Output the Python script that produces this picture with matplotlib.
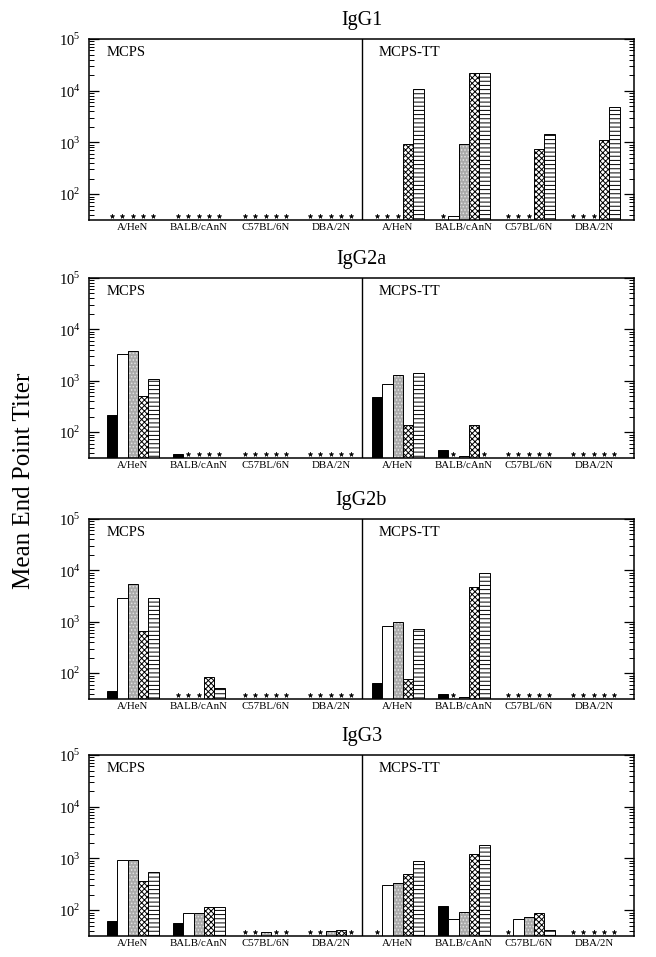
import numpy as np
import matplotlib
matplotlib.use("Agg")
import matplotlib.pyplot as plt
from matplotlib.ticker import LogLocator, NullFormatter, FixedLocator

plt.rcParams['font.family'] = ['Liberation Serif', 'DejaVu Serif']
plt.rcParams['mathtext.fontset'] = 'custom'
plt.rcParams['mathtext.rm'] = 'Liberation Serif'
plt.rcParams['hatch.linewidth'] = 0.7

ND = None  # not detected -> asterisk

strains = ["A/HeN", "BALB/cAnN", "C57BL/6N", "DBA/2N"]
vaccines = ["MCPS", "MCPS-TT"]
isotypes = ["IgG1", "IgG2a", "IgG2b", "IgG3"]

# each row: one strain, five bars (black, white, stippled, crosshatch, lines)
igg1_mcps = [[ND, ND, ND, ND, ND],
             [ND, ND, ND, ND, ND],
             [ND, ND, ND, ND, ND],
             [ND, ND, ND, ND, ND]]
igg1_tt = [[ND, ND, ND, 950, 11000],
           [ND, 37, 950, 22500, 22500],
           [ND, ND, ND, 760, 1450],
           [ND, ND, ND, 1100, 4900]]

igg2a_mcps = [[220, 3400, 3800, 500, 1100],
              [38, ND, ND, ND, ND],
              [ND, ND, ND, ND, ND],
              [ND, ND, ND, ND, ND]]
igg2a_tt = [[490, 880, 1300, 140, 1400],
            [45, ND, 35, 140, ND],
            [ND, ND, ND, ND, ND],
            [ND, ND, ND, ND, ND]]

igg2b_mcps = [[45, 2900, 5500, 650, 2900],
              [ND, ND, ND, 84, 51],
              [ND, ND, ND, ND, ND],
              [ND, ND, ND, ND, ND]]
igg2b_tt = [[64, 820, 1000, 77, 730],
            [40, ND, 35, 4800, 9000],
            [ND, ND, ND, ND, ND],
            [ND, ND, ND, ND, ND]]

igg3_mcps = [[63, 920, 920, 360, 550],
             [57, 90, 90, 113, 113],
             [ND, ND, 37, ND, ND],
             [ND, ND, 39, 41, ND]]
igg3_tt = [[ND, 300, 340, 490, 900],
           [118, 68, 91, 1200, 1800],
           [ND, 66, 74, 89, 42],
           [ND, ND, ND, ND, ND]]

panels = {
    "IgG1": (igg1_mcps, igg1_tt),
    "IgG2a": (igg2a_mcps, igg2a_tt),
    "IgG2b": (igg2b_mcps, igg2b_tt),
    "IgG3": (igg3_mcps, igg3_tt),
}

# layout (x in pixel-like units)
X_MAX = 545
HALF = 273
BAR_W = 10.3
GROUP_START = [[18, 84, 151, 216], [10, 76, 141, 206]]
Y_MIN, Y_MAX = 10 ** 1.5, 1e5
STAR_Y = 10 ** 1.58

W, H = 656, 957
AX_LEFT, AX_RIGHT = 89, 634
AX_TOPS = [39, 278, 519, 755]
AX_BOTS = [220, 458, 699, 936]


def draw_bar(ax, x, v, style):
    if style == 0:
        ax.bar(x, v, BAR_W, bottom=Y_MIN, color='black', edgecolor='black', linewidth=0.7, align='edge')
    elif style == 1:
        ax.bar(x, v, BAR_W, bottom=Y_MIN, color='white', edgecolor='black', linewidth=0.7, align='edge')
    elif style == 2:
        ax.bar(x, v, BAR_W, bottom=Y_MIN, color='#a9a9a9', edgecolor='#e2e2e2', hatch='.....',
               linewidth=0, align='edge')
        ax.bar(x, v, BAR_W, bottom=Y_MIN, fill=False, edgecolor='black', linewidth=0.7, align='edge')
    elif style == 3:
        ax.bar(x, v, BAR_W, bottom=Y_MIN, color='white', edgecolor='black', hatch='xxxxxx',
               linewidth=0.7, align='edge')
    else:
        ax.bar(x, v, BAR_W, bottom=Y_MIN, color='white', edgecolor='black', hatch='----',
               linewidth=0.7, align='edge')


def plot_panel(ax, title, data_pair):
    centers = []
    for h, data in enumerate(data_pair):
        for g, row in enumerate(data):
            x0 = h * HALF + GROUP_START[h][g]
            centers.append(x0 + 2.5 * BAR_W)
            for k, val in enumerate(row):
                x = x0 + k * BAR_W
                if val is None:
                    ax.plot(x + BAR_W / 2, STAR_Y, marker='*', color='black', markersize=3.4,
                            markeredgewidth=0.4, linestyle='none')
                else:
                    draw_bar(ax, x, val - Y_MIN, k)

    ax.set_yscale('log')
    ax.set_ylim(Y_MIN, Y_MAX)
    ax.set_xlim(0, X_MAX)
    ax.axvline(HALF, color='black', linewidth=1.0)

    ax.yaxis.set_major_locator(FixedLocator([1e2, 1e3, 1e4, 1e5]))
    ax.set_yticklabels([r'$10^{2}$', r'$10^{3}$', r'$10^{4}$', r'$10^{5}$'], fontsize=10.5)
    ax.yaxis.set_minor_locator(LogLocator(base=10, subs=np.arange(2, 10)))
    ax.yaxis.set_minor_formatter(NullFormatter())
    ax.tick_params(axis='y', which='both', direction='in', left=True, right=True, pad=6)
    ax.tick_params(axis='y', which='major', length=7, width=0.9)
    ax.tick_params(axis='y', which='minor', length=3.5, width=0.7)

    ax.set_xticks(centers)
    ax.set_xticklabels(strains * 2, fontsize=7.8)
    ax.tick_params(axis='x', length=0, pad=2)

    for s in ax.spines.values():
        s.set_linewidth(1.1)

    ax.text(18 / X_MAX, 0.923, vaccines[0], transform=ax.transAxes, fontsize=10.5, va='center')
    ax.text((HALF + 17) / X_MAX, 0.923, vaccines[1], transform=ax.transAxes, fontsize=10.5, va='center')
    ax.set_title(title, fontsize=14.5, pad=10)


def main():
    fig = plt.figure(figsize=(W / 100, H / 100), dpi=100)
    for i, iso in enumerate(isotypes):
        rect = [AX_LEFT / W, 1 - AX_BOTS[i] / H, (AX_RIGHT - AX_LEFT) / W, (AX_BOTS[i] - AX_TOPS[i]) / H]
        ax = fig.add_axes(rect)
        plot_panel(ax, iso, panels[iso])

    fig.text(24 / W, 1 - 481 / H, "Mean End Point Titer", rotation=90, fontsize=18,
             ha='center', va='center')
    fig.savefig("out.png", dpi=100)


if __name__ == "__main__":
    main()
